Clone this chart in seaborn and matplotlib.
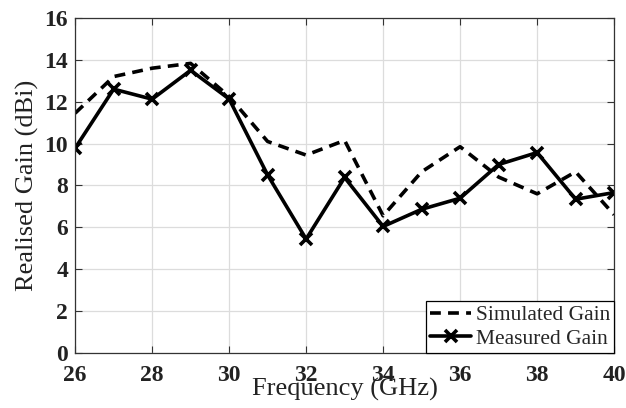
import matplotlib
matplotlib.use("Agg")
import matplotlib.pyplot as plt
import seaborn as sns
import pandas as pd

freq = [26, 27, 28, 29, 30, 31, 32, 33, 34, 35, 36, 37, 38, 39, 40]
simulated = [11.45, 13.2, 13.6, 13.83, 12.25, 10.1, 9.45, 10.15, 6.55, 8.65, 9.85, 8.4, 7.6, 8.65, 6.6]
measured = [9.78, 12.6, 12.12, 13.5, 12.13, 8.5, 5.44, 8.38, 6.04, 6.86, 7.39, 9.0, 9.57, 7.34, 7.66]
x_ticks = [26, 28, 30, 32, 34, 36, 38, 40]
y_ticks = [0, 2, 4, 6, 8, 10, 12, 14, 16]

sns.set_theme(style="whitegrid")
plt.rcParams['font.family'] = ['Liberation Serif', 'DejaVu Serif']
plt.rcParams['mathtext.fontset'] = 'stix'

df = pd.DataFrame({"Frequency": freq, "Simulated Gain": simulated, "Measured Gain": measured})

fig = plt.figure(figsize=(6.26, 4.08), dpi=100)
ax = fig.add_axes([0.12, 0.135, 0.861, 0.821])

sns.lineplot(data=df, x="Frequency", y="Simulated Gain", ax=ax, color="black",
             linestyle=(0, (3, 2)), linewidth=2.6, label="Simulated Gain")
sns.lineplot(data=df, x="Frequency", y="Measured Gain", ax=ax, color="black",
             linewidth=2.6, marker="x", markersize=9, markeredgewidth=2.6,
             markeredgecolor="black", label="Measured Gain")

ax.set_xlim(26, 40)
ax.set_ylim(0, 16)
ax.set_xticks(x_ticks)
ax.set_yticks(y_ticks)
ax.grid(True, color="#dcdcdc", linewidth=0.9)
for s in ax.spines.values():
    s.set_color("#333333")
    s.set_linewidth(0.9)
    s.set_visible(True)
ax.tick_params(direction="in", length=5, width=0.8, color="#333333",
               top=True, right=True, bottom=True, left=True,
               labelsize=17, labelcolor="#222222")
ax.tick_params(axis="x", pad=9)
ax.tick_params(axis="y", pad=5)
for lab in ax.get_xticklabels() + ax.get_yticklabels():
    lab.set_fontweight("bold")

ax.set_xlabel("Frequency (GHz)", fontsize=19, labelpad=-6, color="#222222")
ax.set_ylabel("Realised Gain (dBi)", fontsize=19, labelpad=4, color="#222222")

leg = ax.legend(loc="lower right", fontsize=15.5, frameon=True, fancybox=False,
                borderaxespad=0.0, handlelength=1.9, handletextpad=0.2,
                borderpad=0.2, labelspacing=0.15)
leg.get_frame().set_edgecolor("black")
leg.get_frame().set_linewidth(0.9)
leg.get_frame().set_alpha(1)

fig.savefig("out.png", dpi=100)
